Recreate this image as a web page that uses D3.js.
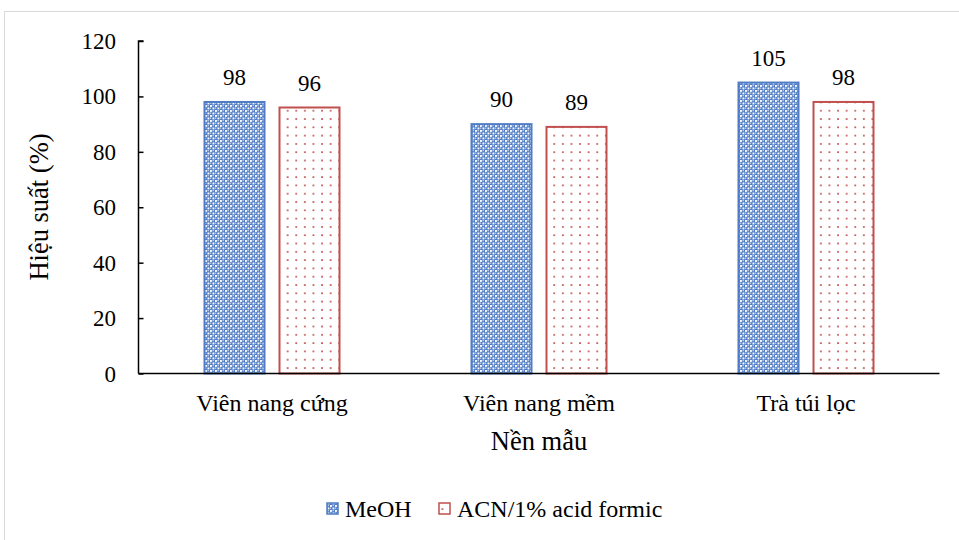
<!DOCTYPE html>
<html>
<head>
<meta charset="utf-8">
<script src="https://cdn.jsdelivr.net/npm/d3@7"></script>
<style>
  html, body { margin: 0; padding: 0; background: #fff; }
  svg text { font-family: "Liberation Serif", "Times New Roman", serif; fill: #000; }
</style>
</head>
<body>
<svg id="chart" width="959" height="540"></svg>
<script>
// Sample matrices and extraction solvents
const categories = ["Viên nang cứng", "Viên nang mềm", "Trà túi lọc"];
const seriesNames = ["MeOH", "ACN/1% acid formic"];
const meohValues = [98, 90, 105];
const acnValues = [96, 89, 98];
const yTicks = [0, 20, 40, 60, 80, 100, 120];

const svg = d3.select("#chart");
const defs = svg.append("defs");

// Blue fill with a white dotted-diamond pattern
const pBlue = defs.append("pattern").attr("id", "patBlue")
  .attr("patternUnits", "userSpaceOnUse").attr("width", 5).attr("height", 5);
pBlue.append("rect").attr("width", 5).attr("height", 5).attr("fill", "#4f7cc4");
[[0, 0], [2.5, 2.5]].forEach(([x, y]) => {
  pBlue.append("rect").attr("x", x).attr("y", y).attr("width", 1.9).attr("height", 1.9).attr("fill", "#ffffff");
});
[[2.5, 0], [0, 2.5]].forEach(([x, y]) => {
  pBlue.append("rect").attr("x", x).attr("y", y).attr("width", 1.3).attr("height", 1.3).attr("fill", "#c4d4ee");
});

// White fill with sparse red dots
const pRed = defs.append("pattern").attr("id", "patRed")
  .attr("patternUnits", "userSpaceOnUse").attr("width", 8.6).attr("height", 8.3);
pRed.append("rect").attr("width", 8.6).attr("height", 8.3).attr("fill", "#ffffff");
pRed.append("rect").attr("x", 3).attr("y", 2).attr("width", 1.7).attr("height", 1.7).attr("fill", "#c0504d");

// Outer chart frame
svg.append("rect").attr("x", 4.5).attr("y", 11.5).attr("width", 1000).attr("height", 600)
  .attr("fill", "none").attr("stroke", "#d9d9d9").attr("stroke-width", 1);

const plot = { left: 138.5, right: 939.5, top: 41, bottom: 373.5 };

const x0 = d3.scaleBand().domain(categories).range([plot.left, plot.right]).paddingInner(0).paddingOuter(0);
const y = d3.scaleLinear().domain([0, 120]).range([plot.bottom, plot.top]);

const barW = 60, gap = 15;
const series = [
  { name: seriesNames[0], values: meohValues, fill: "url(#patBlue)", stroke: "#4f7cc4", offset: -(gap / 2 + barW) },
  { name: seriesNames[1], values: acnValues, fill: "url(#patRed)", stroke: "#c0504d", offset: gap / 2 }
];

series.forEach(s => {
  const g = svg.append("g");
  g.selectAll("rect").data(categories).join("rect")
    .attr("x", (c) => x0(c) + x0.bandwidth() / 2 + s.offset)
    .attr("y", (c, i) => y(s.values[i]))
    .attr("width", barW)
    .attr("height", (c, i) => y(0) - y(s.values[i]))
    .attr("fill", s.fill)
    .attr("stroke", s.stroke)
    .attr("stroke-width", 2);
  g.selectAll("text").data(categories).join("text")
    .attr("x", (c) => x0(c) + x0.bandwidth() / 2 + s.offset + barW / 2)
    .attr("y", (c, i) => y(s.values[i]) - 17)
    .attr("text-anchor", "middle")
    .attr("font-size", 23)
    .text((c, i) => s.values[i]);
});

// Y axis with inward ticks
const yAxis = d3.axisRight(y).tickValues(yTicks).tickSize(5).tickFormat("");
const yg = svg.append("g").attr("transform", `translate(${plot.left},0)`).call(yAxis);
yg.select(".domain").attr("stroke", "#000").attr("stroke-width", 1.5).attr("d", `M5,${plot.top}H0V${plot.bottom}`);
yg.selectAll(".tick line").attr("stroke", "#000").attr("stroke-width", 1.5);
svg.append("g").selectAll("text").data(yTicks).join("text")
  .attr("x", 116).attr("y", (d) => y(d) + 8)
  .attr("text-anchor", "end").attr("font-size", 23).text((d) => d);

// X axis baseline
const xAxis = d3.axisBottom(x0).tickSize(0).tickFormat("");
const xg = svg.append("g").attr("transform", `translate(0,${plot.bottom})`).call(xAxis);
xg.select(".domain").attr("stroke", "#000").attr("stroke-width", 1.5).attr("d", `M${plot.left},0H${plot.right}`);
svg.append("g").selectAll("text").data(categories).join("text")
  .attr("x", (c) => x0(c) + x0.bandwidth() / 2)
  .attr("y", 411).attr("text-anchor", "middle").attr("font-size", 24).text((c) => c);

// Axis titles
svg.append("text").attr("x", 539).attr("y", 450).attr("text-anchor", "middle")
  .attr("font-size", 26.5).text("Nền mẫu");
svg.append("text").attr("transform", `translate(48,207) rotate(-90)`).attr("text-anchor", "middle")
  .attr("font-size", 26.5).text("Hiệu suất (%)");

// Legend
const legend = [
  { name: seriesNames[0], fill: "url(#patBlue)", stroke: "#4f7cc4", x: 327 },
  { name: seriesNames[1], fill: "url(#patRed)", stroke: "#c0504d", x: 439 }
];
legend.forEach(l => {
  svg.append("rect").attr("x", l.x).attr("y", 503).attr("width", 11).attr("height", 11)
    .attr("fill", l.fill).attr("stroke", l.stroke).attr("stroke-width", 1.5);
  svg.append("text").attr("x", l.x + 18).attr("y", 517).attr("font-size", 24).text(l.name);
});
</script>
</body>
</html>
